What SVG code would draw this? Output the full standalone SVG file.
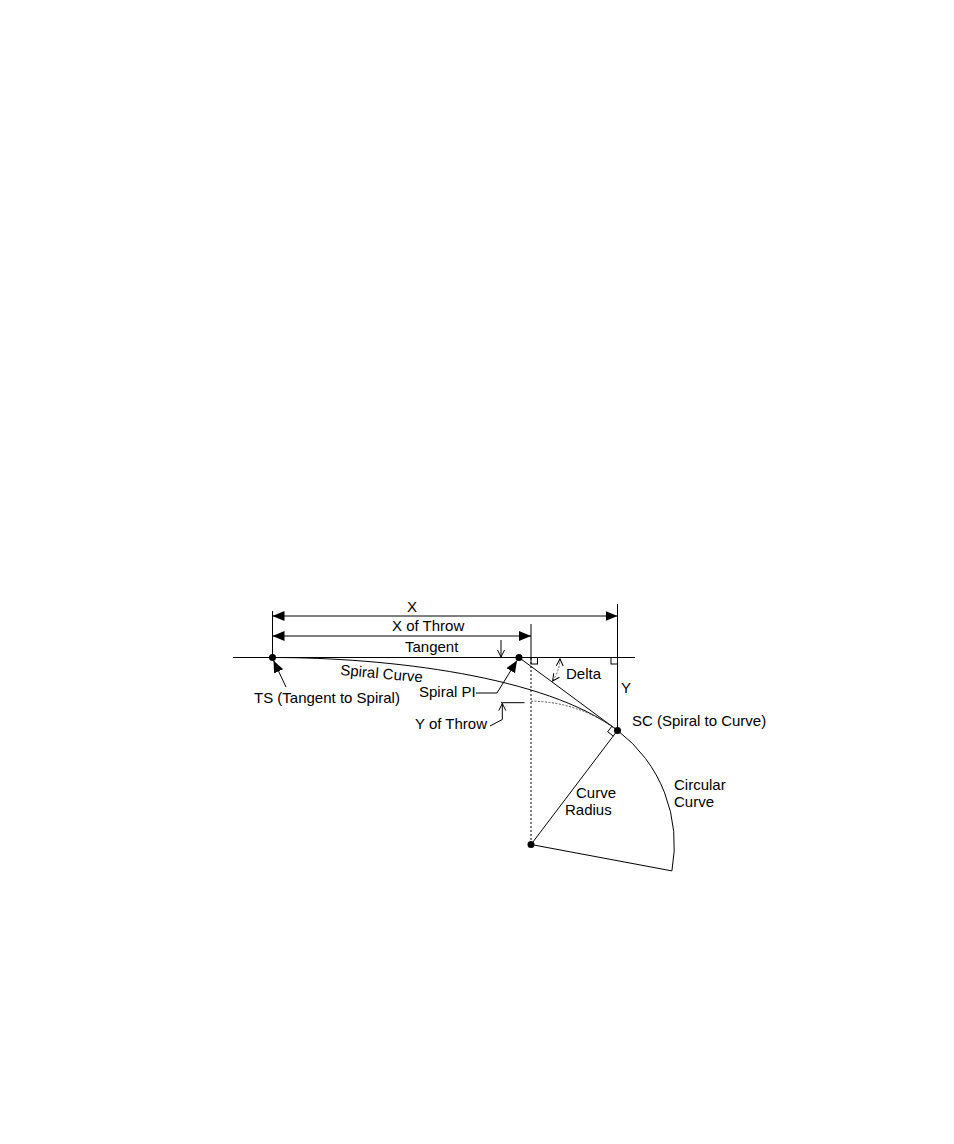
<svg xmlns="http://www.w3.org/2000/svg" width="954" height="1144" viewBox="0 0 954 1144">
<style>
.ln{stroke:#000;stroke-width:1;fill:none}
.dt{stroke:#000;stroke-width:1;fill:none;stroke-dasharray:2 2}
.dg{stroke:#555;stroke-width:1;fill:none;stroke-dasharray:2 1.5}
.pt{fill:#000;stroke:none}
text{font-family:"Liberation Sans",Arial,Helvetica,sans-serif;font-size:15px;fill:#000}
</style>
<defs>
<marker id="fa" markerUnits="userSpaceOnUse" markerWidth="13" markerHeight="11" viewBox="0 0 13 11" refX="12" refY="5" orient="auto-start-reverse">
<path d="M0,0 L12,5 L0,10 z" fill="#000"/>
</marker>
<marker id="oa" markerUnits="userSpaceOnUse" markerWidth="9" markerHeight="9" viewBox="0 0 9 9" refX="7.5" refY="4" orient="auto-start-reverse">
<path d="M0.5,0.5 L7.5,4 L0.5,7.5" fill="none" stroke="#000" stroke-width="1"/>
</marker>
</defs>
<rect width="954" height="1144" fill="#fff"/>

<g id="connectors">
<line class="ln" x1="233" y1="657.5" x2="635" y2="657.5"/>
<line class="ln" x1="272.5" y1="611" x2="272.5" y2="657.5"/>
<line class="ln" x1="531" y1="624" x2="531" y2="657.5"/>
<line class="ln" x1="617.5" y1="604" x2="617.5" y2="730.4"/>
<line class="ln" x1="272.5" y1="616" x2="617.5" y2="616" marker-start="url(#fa)" marker-end="url(#fa)"/>
<line class="ln" x1="272.5" y1="636" x2="531" y2="636" marker-start="url(#fa)" marker-end="url(#fa)"/>
<line class="ln" x1="501" y1="640" x2="501" y2="657" marker-end="url(#oa)"/>
<rect class="ln" x="531" y="657.5" width="6.5" height="6.5"/>
<rect class="ln" x="611" y="657.5" width="6.5" height="6.5"/>
<path class="ln" d="M272.5,657.5 C387.5,657.5 545.8,676 617.5,730.4"/>
<line class="ln" x1="519" y1="657.5" x2="617.5" y2="730.4"/>
<line class="dt" x1="531" y1="658" x2="531" y2="844.5"/>
<path class="dg" d="M531,701.2 A143.3,143.3 0 0 1 617.5,730.4"/>
<path class="ln" d="M617.5,730.4 A143.3,143.3 0 0 1 671.9,870.9"/>
<line class="ln" x1="531" y1="844.5" x2="617.5" y2="730.4"/>
<line class="ln" x1="531" y1="844.5" x2="671.9" y2="870.9"/>
<path class="ln" d="M613.3,736 L607.7,731.8 L611.9,726.2"/>
<path class="dg" d="M559.98,658.93 A41,41 0 0 1 552.59,681.02" marker-start="url(#oa)" marker-end="url(#oa)"/>
<line class="ln" x1="501" y1="702.7" x2="524.5" y2="702.7"/>
<polyline class="ln" points="490,726 502.3,719.5 502.3,703.5" marker-end="url(#oa)"/>
<line class="ln" x1="286" y1="687" x2="273.5" y2="660.5" marker-end="url(#fa)"/>
<polyline class="ln" points="476,693 497,693 517,660.5" marker-end="url(#fa)"/>
</g>

<g id="node-ts"><circle class="pt" cx="272.5" cy="657.5" r="3.5"/><text x="254" y="703">TS (Tangent to Spiral)</text></g>
<g id="node-spiral-pi"><circle class="pt" cx="519" cy="657.5" r="3.5"/><text x="419" y="697">Spiral PI</text></g>
<g id="node-sc"><circle class="pt" cx="617.5" cy="730.4" r="3.5"/><text x="632" y="726">SC (Spiral to Curve)</text></g>
<g id="node-center"><circle class="pt" cx="531" cy="844.5" r="3.5"/></g>

<g id="label-x"><text x="412" y="612" text-anchor="middle">X</text></g>
<g id="label-x-of-throw"><text x="392" y="631">X of Throw</text></g>
<g id="label-tangent"><text x="405" y="652">Tangent</text></g>
<g id="label-spiral-curve"><text x="340" y="675" transform="rotate(5 340 675)">Spiral Curve</text></g>
<g id="label-y-of-throw"><text x="415" y="729">Y of Throw</text></g>
<g id="label-delta"><text x="566" y="679">Delta</text></g>
<g id="label-y"><text x="621" y="693">Y</text></g>
<g id="label-curve-radius"><text x="576" y="798">Curve</text><text x="565" y="815">Radius</text></g>
<g id="label-circular-curve"><text x="674" y="790">Circular</text><text x="674" y="807">Curve</text></g>
</svg>
